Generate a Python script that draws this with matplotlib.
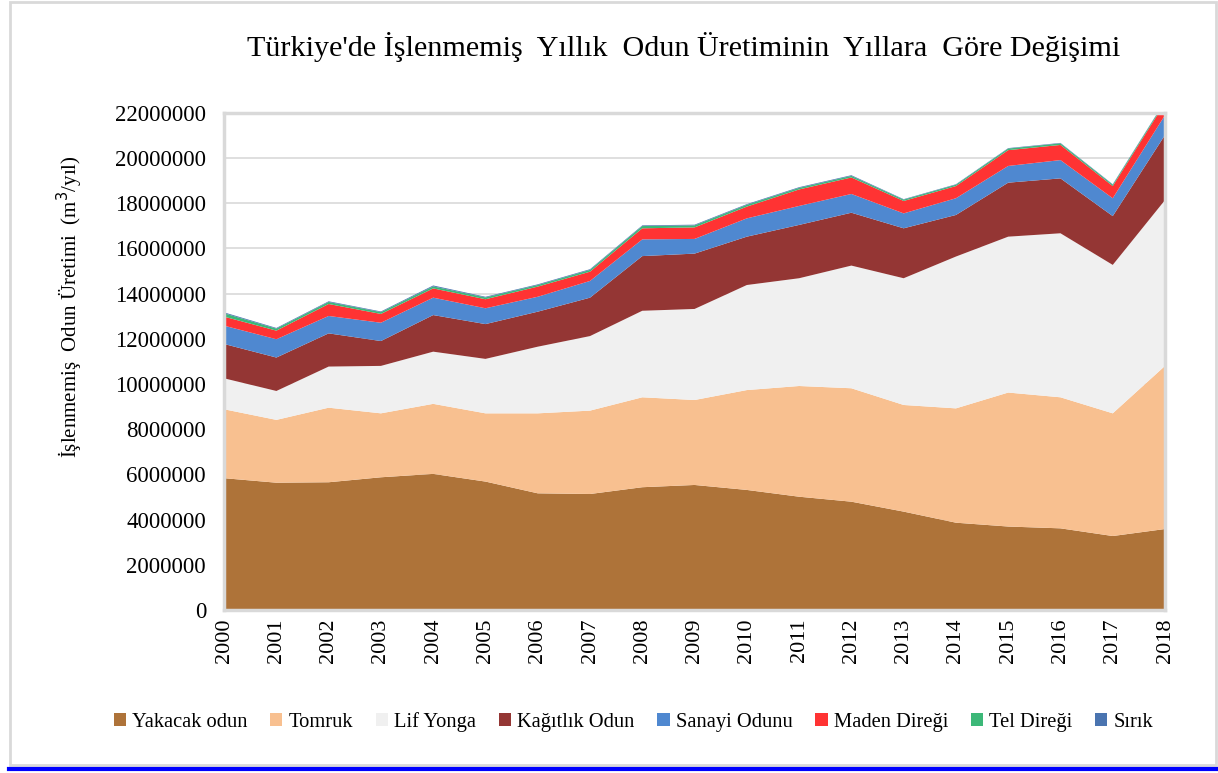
# Türkiye'de işlenmemiş yıllık odun üretimi - alan grafiği
import numpy as np
import matplotlib.pyplot as plt
from matplotlib.lines import Line2D
from matplotlib.patches import Rectangle
from matplotlib.ticker import FuncFormatter

plt.rcParams['font.family'] = ['Liberation Serif', 'DejaVu Serif']

# Veriler (m3/yıl), grafikten okunmuş tahmini değerler
yillar = list(range(2000, 2019))
yakacak_odun = [5830000, 5630000, 5650000, 5870000, 6020000, 5680000, 5160000, 5130000, 5430000, 5530000,
                5310000, 5010000, 4790000, 4350000, 3860000, 3690000, 3610000, 3270000, 3580000]
tomruk = [3050000, 2780000, 3300000, 2830000, 3100000, 3020000, 3540000, 3690000, 3980000, 3760000,
          4420000, 4900000, 5020000, 4720000, 5060000, 5930000, 5800000, 5430000, 7220000]
lif_yonga = [1370000, 1280000, 1820000, 2100000, 2310000, 2410000, 2950000, 3300000, 3830000, 4030000,
             4650000, 4770000, 5430000, 5610000, 6720000, 6900000, 7260000, 6570000, 7340000]
kagitlik_odun = [1520000, 1480000, 1470000, 1100000, 1620000, 1540000, 1550000, 1700000, 2420000, 2450000,
                 2140000, 2360000, 2340000, 2210000, 1840000, 2390000, 2430000, 2160000, 2880000]
sanayi_odunu = [810000, 810000, 770000, 810000, 770000, 700000, 660000, 740000, 740000, 650000,
                810000, 840000, 830000, 660000, 740000, 740000, 810000, 790000, 880000]
maden_diregi = [400000, 380000, 530000, 390000, 410000, 400000, 450000, 410000, 490000, 510000,
                520000, 730000, 730000, 550000, 540000, 700000, 670000, 540000, 550000]
tel_diregi = [150000, 90000, 90000, 80000, 90000, 80000, 70000, 80000, 100000, 90000,
              80000, 70000, 70000, 60000, 60000, 70000, 70000, 60000, 60000]
sirik = [40000, 30000, 30000, 30000, 40000, 30000, 30000, 30000, 30000, 30000,
         30000, 30000, 30000, 20000, 20000, 20000, 20000, 20000, 20000]

etiketler = ['Yakacak odun', 'Tomruk', 'Lif Yonga', 'Kağıtlık Odun', 'Sanayi Odunu',
             'Maden Direği', 'Tel Direği', 'Sırık']
renkler = ['#AE7339', '#F8C090', '#F0F0F0', '#943634', '#4F88D0', '#FF3333', '#3CB878', '#4A74B0']

fig = plt.figure(figsize=(12.18, 7.73), dpi=100)
ax = fig.add_axes([0.184, 0.211, 0.7725, 0.643])

ax.stackplot(yillar, yakacak_odun, tomruk, lif_yonga, kagitlik_odun, sanayi_odunu,
             maden_diregi, tel_diregi, sirik, labels=etiketler, colors=renkler, zorder=2)

ax.set_xlim(2000, 2018)
ax.set_ylim(0, 22000000)
ax.set_yticks(np.arange(0, 22000001, 2000000))
ax.yaxis.set_major_formatter(FuncFormatter(lambda v, p: '%d' % v))
ax.set_xticks(yillar)
ax.set_xticklabels([str(y) for y in yillar], rotation=90)
ax.tick_params(axis='y', length=0, labelsize=16.5, pad=13)
ax.tick_params(axis='x', length=0, labelsize=16, pad=6)
ax.grid(axis='y', color='#d9d9d9', linewidth=1.2, zorder=1)
ax.set_axisbelow(True)
for s in ax.spines.values():
    s.set_color('#d9d9d9')
    s.set_linewidth(2.5)

ax.set_ylabel('İşlenmemiş  Odun Üretimi  (m$^3$/yıl)', fontsize=15)
ax.yaxis.set_label_coords(-0.148, 0.61)

fig.suptitle("Türkiye'de İşlenmemiş  Yıllık  Odun Üretiminin  Yıllara  Göre Değişimi",
             fontsize=21.7, x=0.561, y=0.958)

fig.legend(loc='center', bbox_to_anchor=(0.52, 0.066), ncol=8, frameon=False,
           fontsize=14.8, handlelength=0.6, handleheight=0.6, handletextpad=0.3,
           columnspacing=1.1)

# çerçeve ve alt mavi çizgi
fig.patches.append(Rectangle((0.008, 0.01), 0.99, 0.988, transform=fig.transFigure,
                             fill=False, edgecolor='#d9d9d9', linewidth=2))
fig.lines.append(Line2D([0.007, 1.0], [0.005, 0.005], transform=fig.transFigure,
                        color='#0000ff', linewidth=3))

plt.savefig('out.png', dpi=100)
